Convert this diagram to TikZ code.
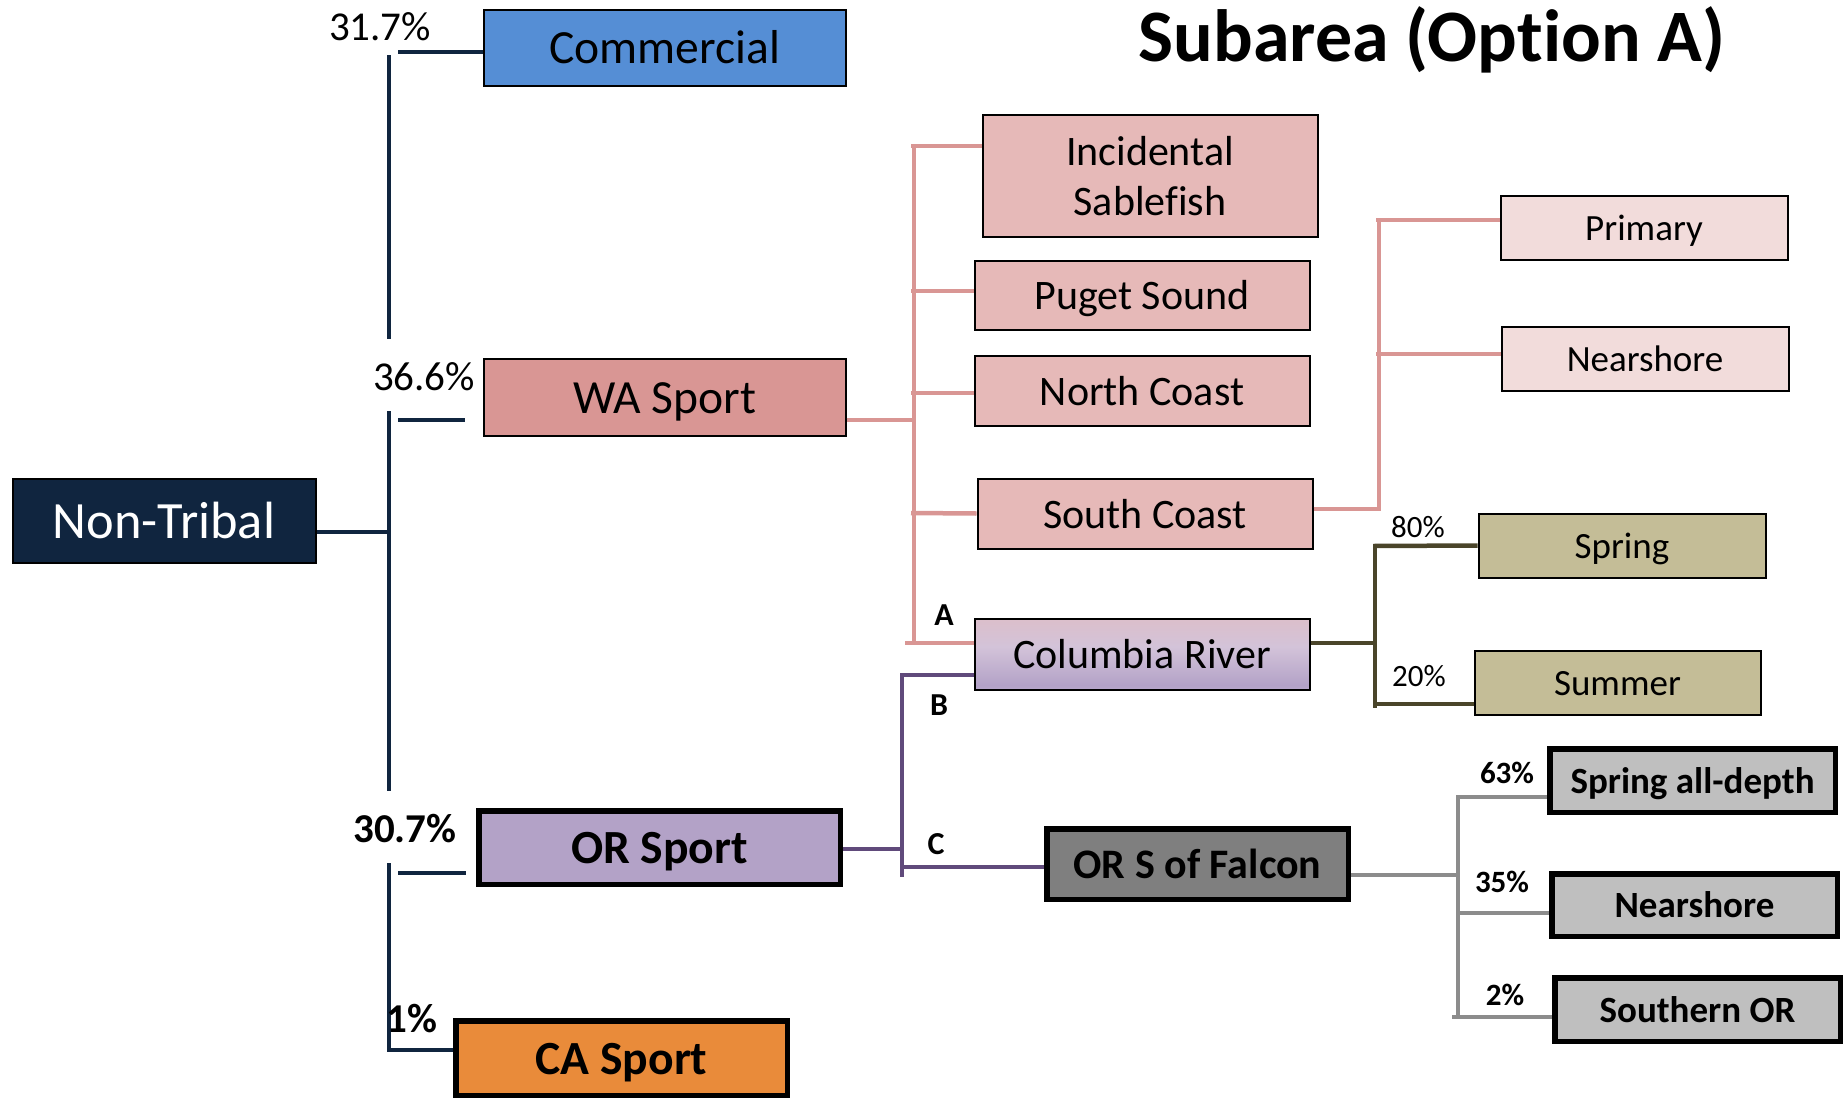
\documentclass[tikz,border=0pt]{standalone}
\usepackage{fontspec}
\setmainfont{Carlito}[Ligatures=NoCommon]
\definecolor{navy}{HTML}{10253F}
\definecolor{comfill}{HTML}{558ED5}
\definecolor{wafill}{HTML}{D99694}
\definecolor{subfill}{HTML}{E6B9B8}
\definecolor{lightfill}{HTML}{F2DCDB}
\definecolor{pinkline}{HTML}{D99694}
\definecolor{olivefill}{HTML}{C4BD97}
\definecolor{oliveline}{HTML}{4A452A}
\definecolor{orfill}{HTML}{B3A2C7}
\definecolor{purpleline}{HTML}{604A7B}
\definecolor{falconfill}{HTML}{7F7F7F}
\definecolor{grayfill}{HTML}{BFBFBF}
\definecolor{grayline}{HTML}{8C8C8C}
\definecolor{cafill}{HTML}{E98B3A}
\definecolor{crtop}{HTML}{E6B9B8}
\definecolor{crmid}{HTML}{D3C3D9}
\definecolor{crband}{HTML}{B3A2C7}
\definecolor{crbot}{HTML}{DEDAEE}
\pgfdeclareverticalshading{crshade}{100bp}{color(0bp)=(crbot); color(28bp)=(crband); color(55bp)=(crmid); color(100bp)=(crtop)}
\tikzset{
  box/.style={draw=black, line width=1pt, inner sep=0pt, align=center, text=black},
  thickbox/.style={draw=black, line width=2.75pt, inner sep=0pt, align=center, text=black},
  hugefont/.style={font=\fontsize{26.2}{31}\selectfont, text height=17.5pt, text depth=0pt},
  bigfont/.style={font=\fontsize{23.8}{28}\selectfont, text height=16.3pt, text depth=0pt},
  bigbold/.style={font=\fontsize{23.8}{28}\selectfont\bfseries, text height=16.3pt, text depth=0pt},
  midfont/.style={font=\fontsize{21}{25.3}\selectfont, text height=14.5pt, text depth=0pt},
  midbold/.style={font=\fontsize{21}{25.3}\selectfont\bfseries, text height=14.5pt, text depth=0pt},
  smallfont/.style={font=\fontsize{18.5}{22}\selectfont, text height=12.8pt, text depth=0pt},
  smallbold/.style={font=\fontsize{18.5}{22}\selectfont\bfseries, text height=12.8pt, text depth=0pt},
  conn/.style={line width=2.25pt},
  pct/.style={inner sep=0pt, font=\fontsize{20.5}{24}\selectfont},
  pctbold/.style={inner sep=0pt, font=\fontsize{20.5}{24}\selectfont\bfseries},
  spct/.style={inner sep=0pt, font=\fontsize{15.5}{18}\selectfont},
  spctbold/.style={inner sep=0pt, font=\fontsize{15.5}{18}\selectfont\bfseries},
  letter/.style={inner sep=0pt, font=\fontsize{16}{19}\selectfont\bfseries},
}
\begin{document}
\begin{tikzpicture}[x=0.5pt, y=-0.5pt]
\useasboundingbox (0,0) rectangle (1848,1098);
% ---- boxes
\node[box, hugefont, fill=navy, text=white, minimum width=151.5pt, minimum height=42pt] (NT) at (164,521) {Non-Tribal};
\node[box, bigfont, fill=comfill, minimum width=181pt, minimum height=38pt] (Com) at (664.5,47.5) {Commercial};
\node[box, bigfont, fill=wafill, minimum width=181pt, minimum height=38.5pt] (WA) at (664.5,397) {WA Sport};
\node[thickbox, bigbold, fill=orfill, minimum width=180.75pt, minimum height=36.75pt] (OR) at (659.5,847.5) {OR Sport};
\node[thickbox, bigbold, fill=cafill, minimum width=165.75pt, minimum height=37.25pt] (CA) at (621.5,1058) {CA Sport};
\node[draw=black, line width=1pt, inner sep=0pt, align=center, font=\fontsize{21}{25.3}\selectfont, fill=subfill, minimum width=167.5pt, minimum height=61pt] (Inc) at (1150,176) {Incidental\\Sablefish};
\node[box, midfont, fill=subfill, minimum width=167.5pt, minimum height=34.5pt] (Pug) at (1142,295) {Puget Sound};
\node[box, midfont, fill=subfill, minimum width=167.5pt, minimum height=35pt] (Nor) at (1142,390.5) {North Coast};
\node[box, midfont, fill=subfill, minimum width=167.5pt, minimum height=35pt] (Sou) at (1145,513.5) {South Coast};
\node[box, midfont, shading=crshade, minimum width=167.5pt, minimum height=35.5pt] (CR) at (1142,654) {Columbia River};
\node[box, smallfont, fill=lightfill, minimum width=143.5pt, minimum height=32pt] (Pri) at (1644,227.5) {Primary};
\node[box, smallfont, fill=lightfill, minimum width=143.5pt, minimum height=32pt] (NSa) at (1645,358.5) {Nearshore};
\node[box, smallfont, fill=olivefill, minimum width=143.5pt, minimum height=32pt] (Spr) at (1622,545.5) {Spring};
\node[box, smallfont, fill=olivefill, minimum width=143pt, minimum height=32pt] (Sum) at (1617.5,682.5) {Summer};
\node[thickbox, midbold, fill=falconfill, minimum width=150.75pt, minimum height=35.25pt] (ORSF) at (1197.5,864) {OR S of Falcon};
\node[thickbox, smallbold, fill=grayfill, minimum width=142.75pt, minimum height=31.75pt] (SAD) at (1692.5,780.5) {Spring all-depth};
\node[thickbox, smallbold, fill=grayfill, minimum width=142.75pt, minimum height=31.25pt] (NSb) at (1694.5,905) {Nearshore};
\node[thickbox, smallbold, fill=grayfill, minimum width=142.75pt, minimum height=31.75pt] (SOR) at (1697.5,1009.5) {Southern OR};
% ---- title
\node[inner sep=0pt, anchor=base, font=\fontsize{37}{44}\selectfont\bfseries] (title) at (1432,61) {Subarea (Option A)};
% ---- navy trunk
\coordinate (t1) at (389,55);
\coordinate (t2) at (389,339);
\coordinate (t3) at (389,411);
\coordinate (t4) at (389,791);
\coordinate (t5) at (389,863);
\coordinate (t6) at (389,1050);
\coordinate (sCom) at (398,52);
\coordinate (sWA1) at (398,420);
\coordinate (sWA2) at (465,420);
\coordinate (sOR1) at (398,873);
\coordinate (sOR2) at (466,873);
\coordinate (jNT) at (389,532);
\begin{scope}[conn, draw=navy]
\draw (t1) -- (t2);
\draw (t3) -- (t4);
\draw (t5) -- (t6) -- (t6 -| CA.west);
\draw ([yshift=-5.5pt]NT.east) -- (jNT);
\draw (sCom) -- ([yshift=-2.25pt]Com.west);
\draw (sWA1) -- (sWA2);
\draw (sOR1) -- (sOR2);
\end{scope}
% ---- pink
\coordinate (pWA) at (914,420);
\coordinate (pTop) at (914,144);
\coordinate (pBot) at (914,645);
\coordinate (pInc) at (911,146);
\coordinate (pPug) at (911,291);
\coordinate (pNor) at (911,393);
\coordinate (pSou) at (911,513);
\coordinate (pCR) at (905,643);
\coordinate (qS) at (1379,509);
\coordinate (qTop) at (1379,218);
\coordinate (qPri) at (1376,220);
\coordinate (qNS) at (1376,354);
\begin{scope}[conn, draw=pinkline]
\draw ([yshift=-11.5pt]WA.east) -- (pWA);
\draw (pTop) -- (pBot);
\draw (pInc) -- ([yshift=15pt]Inc.west);
\draw (pPug) -- ([yshift=2pt]Pug.west);
\draw (pNor) -- ([yshift=-1.25pt]Nor.west);
\draw (pSou) -- (Sou.west);
\draw (pCR) -- ([yshift=5.5pt]CR.west);
\draw ([yshift=2.25pt]Sou.east) -- (qS) -- (qTop);
\draw (qPri) -- ([yshift=3.75pt]Pri.west);
\draw (qNS) -- ([yshift=2.25pt]NSa.west);
\end{scope}
% ---- olive
\coordinate (oCR) at (1375,643);
\coordinate (oTop) at (1375,544);
\coordinate (oBot) at (1375,708);
\coordinate (oSpr) at (1373,546);
\coordinate (oSum) at (1377,704);
\begin{scope}[conn, draw=oliveline]
\draw ([yshift=5.5pt]CR.east) -- (oCR);
\draw (oTop) -- (oBot);
\draw (oSpr) -- (Spr.west);
\draw (oSum) -- ([yshift=-10.75pt]Sum.west);
\end{scope}
% ---- purple
\coordinate (uOR) at (902,849);
\coordinate (uTop) at (902,673);
\coordinate (uBot) at (902,877);
\coordinate (uCR) at (900,675);
\coordinate (uF) at (902,867);
\begin{scope}[conn, draw=purpleline]
\draw ([yshift=-0.75pt]OR.east) -- (uOR);
\draw (uTop) -- (uBot);
\draw (uCR) -- ([yshift=-10.5pt]CR.west);
\draw (uF) -- ([yshift=-1.5pt]ORSF.west);
\end{scope}
% ---- gray
\coordinate (gF) at (1458,875);
\coordinate (gTop) at (1458,795);
\coordinate (gBot) at (1458,1019);
\coordinate (gSAD) at (1458,797);
\coordinate (gNS) at (1458,913);
\coordinate (gSOR) at (1452,1017);
\begin{scope}[conn, draw=grayline]
\draw ([yshift=-5.5pt]ORSF.east) -- (gF);
\draw (gTop) -- (gBot);
\draw (gSAD) -- ([yshift=-8.25pt]SAD.west);
\draw (gNS) -- ([yshift=-4pt]NSb.west);
\draw (gSOR) -- ([yshift=-3.75pt]SOR.west);
\end{scope}
% ---- labels
\node[pct] (l317) at (380,26.5) {31.7\%};
\node[pct] (l366) at (424,376.5) {36.6\%};
\node[pctbold] (l307) at (405,828.5) {30.7\%};
\node[pctbold] (l1) at (412,1019) {1\%};
\node[spct] (l80) at (1418,527) {80\%};
\node[spct] (l20) at (1419,676) {20\%};
\node[spctbold] (l63) at (1507,773) {63\%};
\node[spctbold] (l35) at (1502,882) {35\%};
\node[spctbold] (l2) at (1505,995) {2\%};
\node[letter] (lA) at (944,615) {A};
\node[letter] (lB) at (939,705) {B};
\node[letter] (lC) at (936,844) {C};
\end{tikzpicture}
\end{document}
